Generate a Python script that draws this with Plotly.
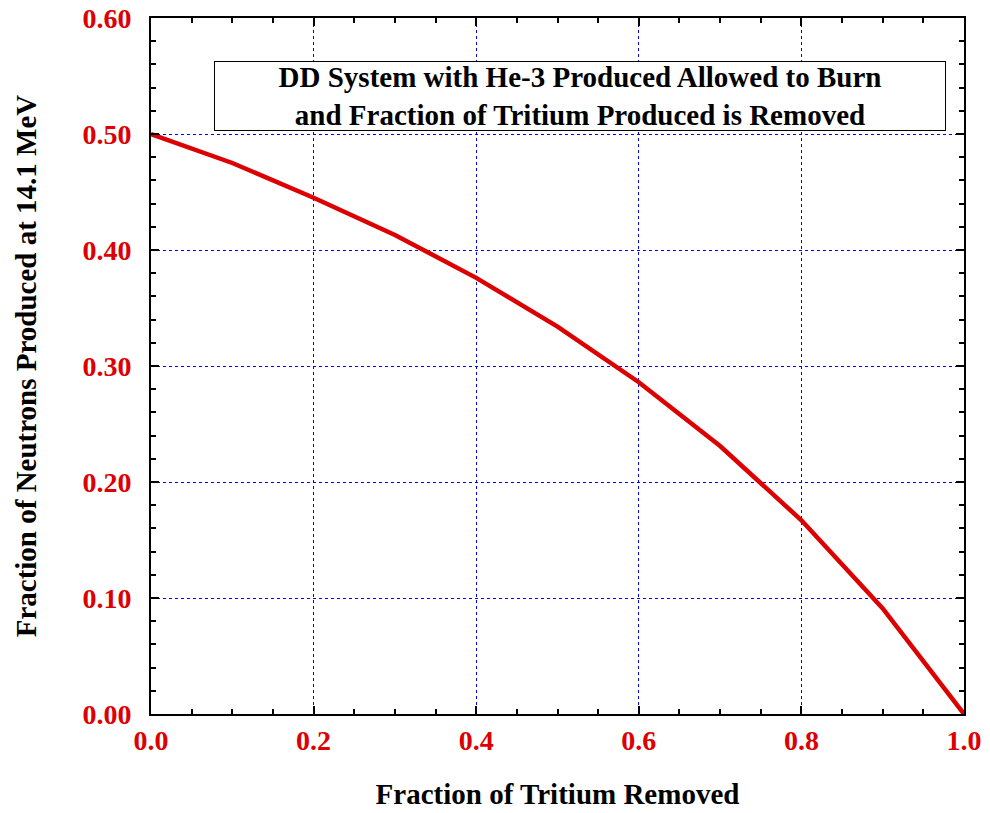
import plotly.graph_objects as go

fraction_removed = [0.0, 0.1, 0.2, 0.3, 0.4, 0.5, 0.6, 0.7, 0.8, 0.9, 1.0]
fraction_14mev = [0.500, 0.475, 0.445, 0.413, 0.376, 0.334, 0.286, 0.231, 0.167, 0.091, 0.0]
x_ticks = [0.0, 0.2, 0.4, 0.6, 0.8, 1.0]
x_tick_labels = ["0.0", "0.2", "0.4", "0.6", "0.8", "1.0"]
y_ticks = [0.0, 0.1, 0.2, 0.3, 0.4, 0.5, 0.6]
y_tick_labels = ["0.00", "0.10", "0.20", "0.30", "0.40", "0.50", "0.60"]

FONT = "Liberation Serif, Times New Roman, serif"
RED = "#dd0000"

fig = go.Figure()
fig.add_trace(go.Scatter(x=fraction_removed, y=fraction_14mev, mode="lines",
                         line=dict(color=RED, width=4.5), showlegend=False))

axis_common = dict(
    showline=True, linecolor="black", linewidth=2, mirror="allticks",
    ticks="inside", ticklen=8, tickwidth=1.5, tickcolor="black",
    showgrid=True, gridcolor="#0000ff", griddash="dot", gridwidth=1,
    zeroline=False, automargin=False,
    tickfont=dict(family=FONT, size=28, color=RED, weight="bold"),
)

fig.update_xaxes(range=[0, 1], tickvals=x_ticks, ticktext=x_tick_labels,
                 minor=dict(dtick=0.05, ticks="inside", ticklen=5, tickwidth=1.5, tickcolor="black", showgrid=False),
                 title=dict(text="Fraction of Tritium Removed", font=dict(family=FONT, size=29, color="black", weight="bold"), standoff=29),
                 ticklabelstandoff=0,
                 **axis_common)
fig.update_yaxes(range=[0, 0.6], tickvals=y_ticks, ticktext=y_tick_labels,
                 minor=dict(dtick=0.02, ticks="inside", ticklen=5, tickwidth=1.5, tickcolor="black", showgrid=False),
                 title=dict(text="Fraction of Neutrons Produced at 14.1 MeV", font=dict(family=FONT, size=29, color="black", weight="bold"), standoff=37),
                 ticklabelstandoff=12,
                 **axis_common)

fig.add_annotation(
    xref="paper", yref="paper", x=0.5277, y=0.888, xanchor="center", yanchor="middle",
    text="DD System with He-3 Produced Allowed to Burn<br>and Fraction of Tritium Produced is Removed",
    showarrow=False, font=dict(family=FONT, size=29, color="black", weight="bold"),
    bgcolor="white", bordercolor="black", borderwidth=1,
    width=728, height=66, align="center",
)

fig.update_layout(
    width=990, height=813,
    margin=dict(l=151, r=26, t=18, b=99),
    plot_bgcolor="white", paper_bgcolor="white",
    font=dict(family=FONT),
)

fig.write_html("out.html", config={"displayModeBar": False},
               post_script="document.body.style.margin='0';document.body.style.overflow='hidden';")
